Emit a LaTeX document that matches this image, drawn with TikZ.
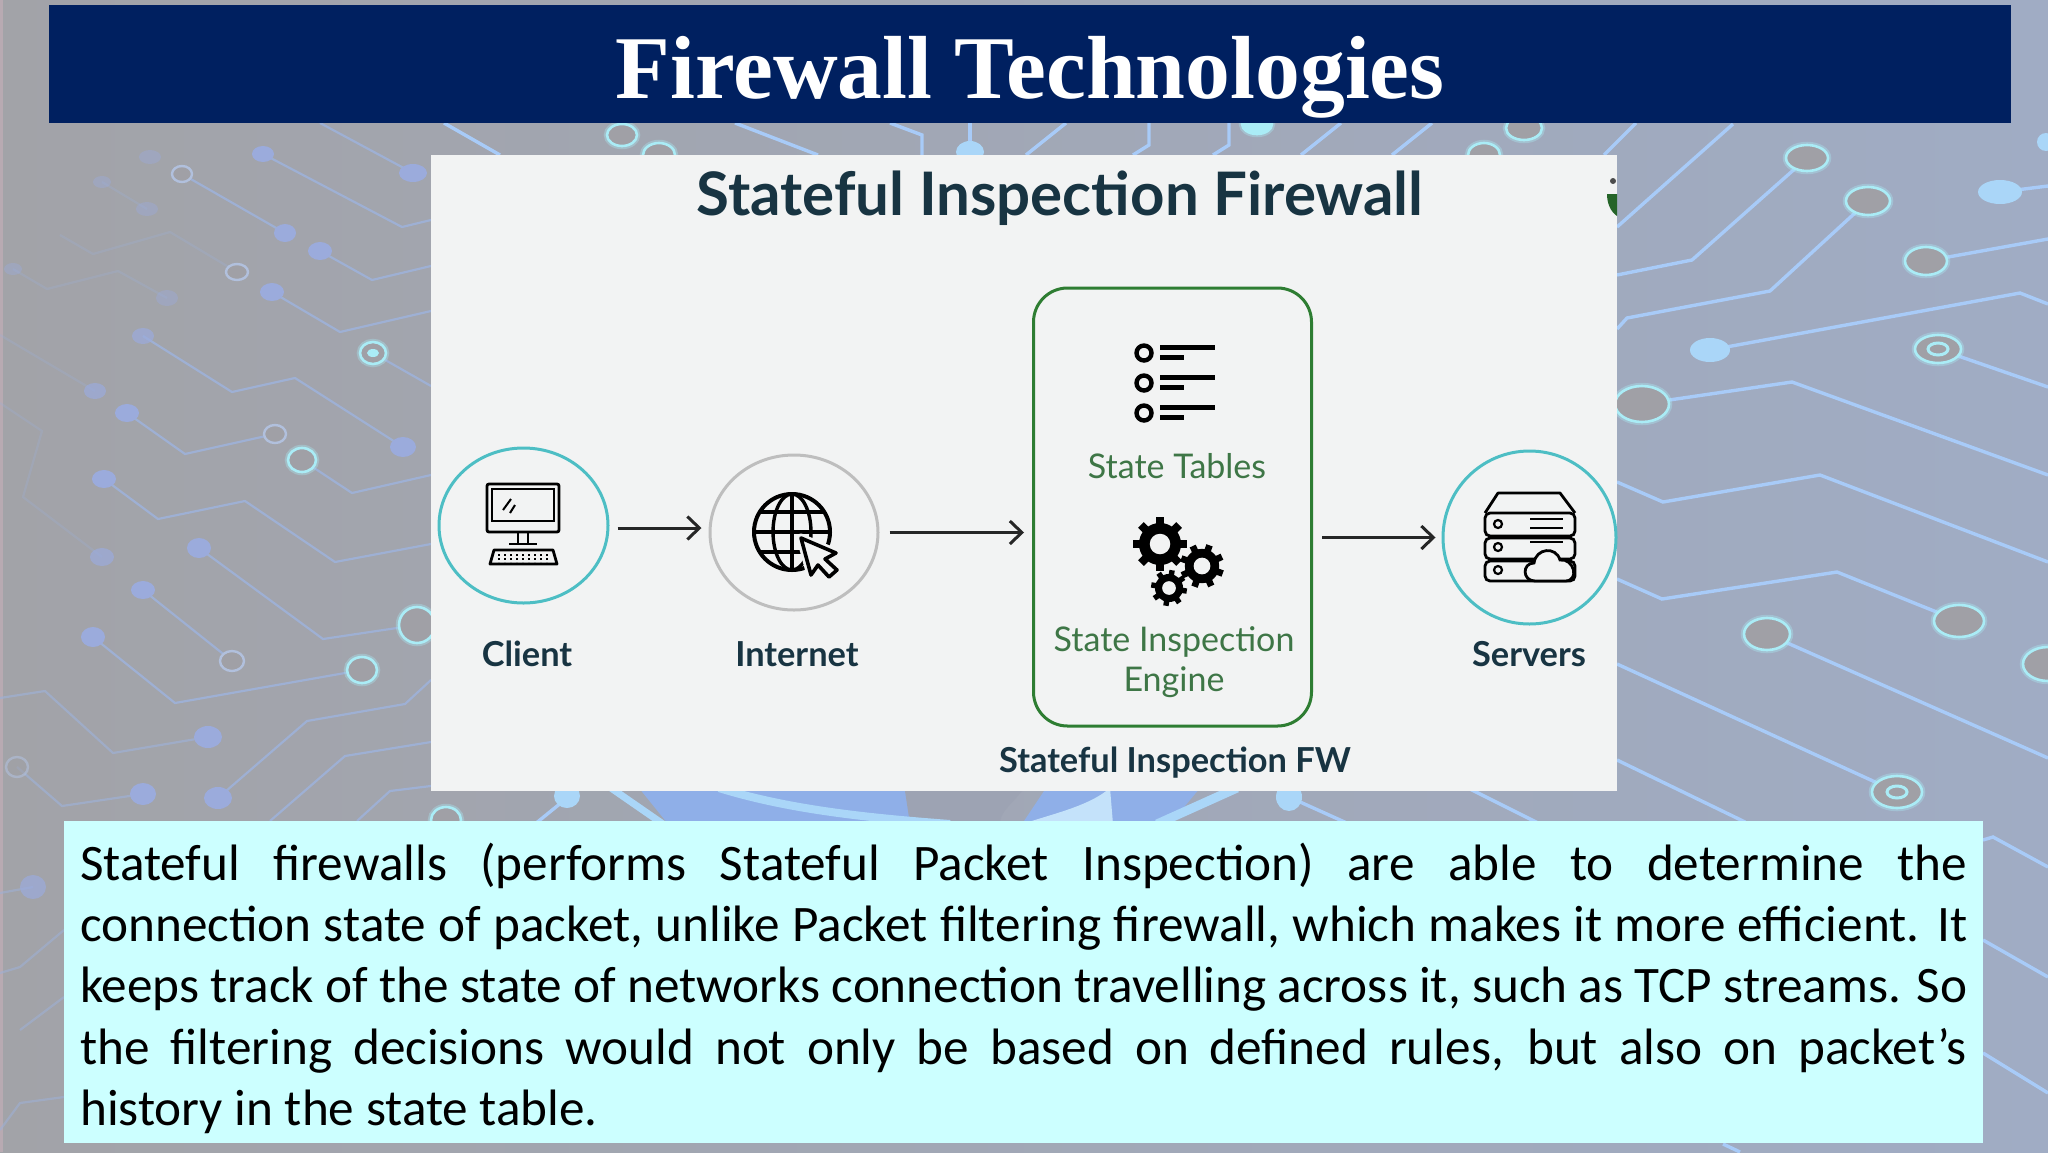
\documentclass[tikz,border=0pt]{standalone}
\usepackage{fontspec}
\setmainfont{Carlito}
\newfontfamily\titlefont{Liberation Serif}
\newfontfamily\diagfont{Lato}
\usetikzlibrary{arrows.meta, shapes.geometric, calc}
\definecolor{bgleft}{RGB}{162, 163, 168}
\definecolor{bgmid}{RGB}{160, 163, 176}
\definecolor{bgright}{RGB}{160, 172, 196}
\definecolor{edgepink}{RGB}{184, 170, 178}
\definecolor{navy}{RGB}{0, 32, 96}
\definecolor{paleaqua}{RGB}{204, 255, 255}
\definecolor{panelgray}{RGB}{242, 243, 243}
\definecolor{tracedimc}{RGB}{158, 176, 212}
\definecolor{tracec}{RGB}{168, 203, 248}
\definecolor{dotdimc}{RGB}{155, 171, 220}
\definecolor{dotlightc}{RGB}{170, 214, 248}
\definecolor{glowc}{RGB}{170, 236, 246}
\definecolor{padgray}{RGB}{160, 160, 166}
\definecolor{swirlc}{RGB}{143, 175, 232}
\definecolor{tealring}{RGB}{77, 190, 196}
\definecolor{grayring}{RGB}{190, 190, 190}
\definecolor{fwgreen}{RGB}{46, 125, 50}
\definecolor{fwtext}{RGB}{62, 118, 70}
\definecolor{inktext}{RGB}{24, 52, 66}
\tikzset{
  tracedim/.style={tracedimc, line width=2.2pt},
  trace/.style={tracec, line width=3.4pt},
  dotdim/.style={fill=dotdimc},
  dotlight/.style={fill=dotlightc},
  ringdim/.style={draw=tracedimc!80!white, line width=2.4pt, fill=padgray},
  ringpad/.style={draw=glowc, line width=2.6pt, fill=padgray,
    preaction={draw=glowc, opacity=.35, line width=6.5pt}},
  hubring/.style={shape=ellipse, draw, line width=3pt, inner sep=0pt},
  toplabel/.style={font=\diagfont\bfseries\fontsize{34.4}{40}\selectfont, text=inktext},
  greenlabel/.style={font=\diagfont\fontsize{34}{40.5}\selectfont, text=fwtext, align=center},
  flowarrow/.style={-{Straight Barb[length=12pt, width=23pt]}, line width=3pt, black!85},
  iconline/.style={draw=black, line width=2.8pt},
}
\newcommand{\gearicon}[4]{%
  \foreach \tooth in {0,45,...,315}
    \draw[black, line width=#3*0.3pt] ($(#1,#2)+(\tooth+#4:#3*0.7)$) -- ($(#1,#2)+(\tooth+#4:#3)$);
  \fill[black] (#1,#2) circle (#3*0.78);
  \fill[panelgray] (#1,#2) circle (#3*0.38);
}

\begin{document}
\begin{tikzpicture}[x=1pt, y=-1pt]
  \useasboundingbox (0,0) rectangle (2048,1152);
  % --- Background board ---
  \shade[left color=bgleft, middle color=bgmid, right color=bgright] (0,0) rectangle (2048,1152);
  \fill[edgepink] (0,0) rectangle (2.5,1152);

  % Traces, left side
  \draw[tracedim] (320,123) -- (413,173);
  \draw[tracedim] (263,154) -- (402,227) -- (431,220);
  \draw[tracedim] (182,174) -- (285,233);
  \draw[tracedim] (320,251) -- (372,280) -- (431,266);
  \draw[tracedim] (272,292) -- (340,332) -- (431,311);
  \draw[tracedim] (373,353) -- (431,386);
  \draw[tracedim] (143,336) -- (232,392) -- (295,378) -- (403,447);
  \draw[tracedim] (127,413) -- (185,454) -- (275,434);
  \draw[tracedim] (302,460) -- (352,493) -- (431,475);
  \draw[tracedim] (104,479) -- (158,519) -- (245,501) -- (335,562) -- (431,544);
  \draw[tracedim] (199,548) -- (323,639) -- (417,625);
  \draw[tracedim] (143,590) -- (232,661);
  \draw[tracedim] (93,637) -- (175,703) -- (362,670);
  \draw[tracedim, opacity=.7] (0,698) -- (45,691) -- (113,753) -- (208,737);
  \draw[tracedim, opacity=.7] (17,767) -- (62,806) -- (143,794);
  \draw[tracedim] (218,798) -- (307,721) -- (405,704) -- (431,680);
  \draw[tracedim] (270,821) -- (345,756) -- (431,742);
  \draw[tracedim] (357,821) -- (390,791) -- (431,786);
  \draw[tracedim, opacity=.3] (102,182) -- (147,209);
  \draw[tracedim, opacity=.3] (13,269) -- (47,289) -- (118,271) -- (167,298);
  \draw[tracedim, opacity=.3] (60,235) -- (93,254) -- (170,232) -- (237,272);
  \draw[tracedim, opacity=.3] (0,335) -- (95,391);
  \draw[tracedim, opacity=.3] (0,403) -- (42,431) -- (23,497) -- (102,557);
  \draw[tracedim, opacity=.6] (0,893) -- (33,887);
  \draw[tracedim, opacity=.6] (0,973) -- (20,967) -- (64,930);
  \draw[tracedim, opacity=.6] (20,1030) -- (64,997);
  \draw[tracedim, opacity=.6] (0,1130) -- (20,1103) -- (64,1097);
  % Pads, left side
  \foreach \px/\py/\rx/\ry in {413/173/14/9, 263/154/11/8, 285/233/11/9, 320/251/12/9, 272/292/12/9,
      403/447/13/10, 127/413/12/9, 104/479/12/9, 199/548/12/10,
      143/590/12/9, 93/637/12/10, 208/737/14/11, 143/794/13/11, 218/798/14/11}
    \fill[dotdim] (\px,\py) ellipse (\rx pt and \ry pt);
  \foreach \px/\py/\rx/\ry in {143/336/11/8, 95/391/11/8, 102/557/12/9, 33/887/13/12}
    \fill[dotdim, opacity=.7] (\px,\py) ellipse (\rx pt and \ry pt);
  \foreach \px/\py/\rx/\ry in {150/157/11/7, 102/182/9/6, 147/209/11/7, 167/298/11/8, 13/269/9/6}
    \fill[dotdim, opacity=.4] (\px,\py) ellipse (\rx pt and \ry pt);
  \foreach \px/\py/\rx/\ry in {182/174/10/8, 237/272/11/8, 275/434/11/9, 232/661/12/10}
    \filldraw[ringdim] (\px,\py) ellipse (\rx pt and \ry pt);
  \filldraw[ringdim, opacity=.6] (17,767) ellipse (11pt and 10pt);
  \foreach \px/\py/\rx/\ry in {302/460/14/12, 417/625/18/18, 362/670/15/13, 373/353/13/11}
    \filldraw[ringpad] (\px,\py) ellipse (\rx pt and \ry pt);
  \fill[glowc] (373,353) ellipse (6pt and 4pt);

  % Traces, strip above the panel
  \draw[trace] (444,123) -- (500,155);
  \draw[trace] (735,123) -- (818,155);
  \draw[trace] (890,123) -- (922,135) -- (922,155);
  \draw[trace] (970,123) -- (970,155);
  \draw[trace] (1066,123) -- (1026,155);
  \draw[trace] (1149,123) -- (1149,145) -- (1133,155);
  \draw[trace] (1229,123) -- (1229,145) -- (1213,155);
  \draw[trace] (1341,123) -- (1301,155);
  \draw[trace] (1432,123) -- (1392,155);
  \draw[trace] (1636,123) -- (1604,155);
  \filldraw[ringpad] (622,135) ellipse (15pt and 11pt);
  \filldraw[ringpad] (659,155) ellipse (16pt and 12pt);
  \filldraw[ringpad, fill=glowc] (1257,124) ellipse (15pt and 10pt);
  \filldraw[ringpad] (1524,128) ellipse (18pt and 12pt);
  \filldraw[ringpad] (1484,155) ellipse (16pt and 12pt);
  \fill[dotlight] (970,152) ellipse (14pt and 11pt);

  % Traces, strip below the panel
  \fill[swirlc] (639,788) -- (914,788) -- (910,824) -- (668,824) -- cycle;
  \fill[padgray!80!swirlc] (905,791) -- (1022,791) .. controls (1010,806) and (1000,812) .. (1000,824) -- (910,824) -- cycle;
  \fill[swirlc] (1046,788) -- (1200,788) -- (1170,824) -- (1022,824) -- cycle;
  \fill[dotlightc!70!white] (1110,788) -- (1113,824) -- (1022,824) .. controls (1060,812) and (1090,805) .. (1110,788);
  \draw[dotlightc, line width=7pt] (611,788) -- (663,824);
  \draw[dotlightc, line width=8pt] (719,788) .. controls (790,810) and (870,818) .. (950,824);
  \draw[dotlightc, line width=9pt] (1237,788) -- (1157,824);
  \draw[trace] (1289,797) -- (1349,824);
  \draw[trace] (1468,788) -- (1540,824);
  \draw[trace] (567,798) -- (535,824);
  \filldraw[ringpad] (446,820) ellipse (15pt and 13pt);
  \fill[dotlight] (567,796) ellipse (13pt and 12pt);
  \fill[dotlight] (1289,797) ellipse (13pt and 14pt);

  % Traces, right side
  \draw[trace] (1617,227) -- (1733,124);
  \draw[trace] (1617,275) -- (1692,260) -- (1807,158);
  \draw[trace] (1617,329) -- (1627,318) -- (1770,291) -- (1868,201);
  \draw[trace] (1926,261) -- (2048,239);
  \draw[trace] (2000,192) -- (2048,186);
  \draw[trace] (1710,350) -- (2020,293) -- (2048,304);
  \draw[trace] (1938,349) -- (2048,387);
  \draw[trace] (1642,404) -- (1792,382) -- (2048,475);
  \draw[trace] (1617,482) -- (1663,502) -- (1820,475) -- (2048,562);
  \draw[trace] (1617,579) -- (1662,599) -- (1837,572) -- (1959,621);
  \draw[trace] (1767,634) -- (2048,758);
  \draw[trace] (1617,664) -- (1897,792);
  \draw[trace] (1617,760) -- (1745,822);
  \draw[trace] (1983,840) -- (1993,837) -- (2048,867);
  \draw[trace] (1983,940) -- (2048,977);
  \draw[trace] (1983,1053) -- (2048,1093);
  \draw[trace] (1723,1144) -- (1740,1152);
  % Pads, right side
  \foreach \px/\py/\rx/\ry in {1807/158/21/13, 1868/201/22/14, 1926/261/21/14, 1642/404/27/18,
      1959/621/25/16, 1767/634/23/16, 2048/664/25/17, 1938/349/23/14, 1897/792/25/16}
    \filldraw[ringpad] (\px,\py) ellipse (\rx pt and \ry pt);
  \foreach \px/\py in {1938/349, 1897/792}
    \draw[glowc, line width=3pt] (\px,\py) ellipse (10pt and 6pt);
  \fill[dotlight] (1710,350) ellipse (20pt and 12pt);
  \fill[dotlight] (2000,192) ellipse (22pt and 12pt);
  \fill[dotlight] (2046,142) ellipse (9pt and 9pt);

  % --- Title band ---
  \node[fill=navy, minimum width=1962pt, minimum height=118pt, inner sep=0pt] (banner) at (1030,64) {};
  \node[anchor=base, font=\titlefont\bfseries\fontsize{89.6}{98}\selectfont, text=white] (title) at (1030,98) {Firewall Technologies};

  % --- Picture panel ---
  \fill[panelgray] (431,155) rectangle (1617,791);
  \node[font=\diagfont\bfseries\fontsize{60}{66}\selectfont, text=inktext] (diagtitle) at (1060,198) {Stateful Inspection Firewall};
  % Logo fragment cut by the panel edge
  \begin{scope}
    \clip (1600,170) rectangle (1617,225);
    \fill[fwgreen!80!black] (1617,194) -- (1607,194) .. controls (1607,204) and (1611,212) .. (1617,216) -- cycle;
    \fill[black!70] (1613,181) circle (3);
  \end{scope}

  % Hubs
  \node[hubring, draw=tealring, minimum width=169pt, minimum height=155pt] (client) at (523.5,525.5) {};
  \node[hubring, draw=grayring, minimum width=168pt, minimum height=155pt] (internet) at (794,532.5) {};
  \node[hubring, draw=tealring, minimum width=173pt, minimum height=173pt] (servers) at (1529.5,537.5) {};
  \node[draw=fwgreen, line width=3pt, rounded corners=34pt, minimum width=278pt, minimum height=438pt, inner sep=0pt] (fwbox) at (1172.5,507) {};

  % Labels
  \node[toplabel] (lblclient) at (527,654) {Client};
  \node[toplabel] (lblinternet) at (797,654) {Internet};
  \node[toplabel] (lblservers) at (1529,654) {Servers};
  \node[toplabel] (lblfw) at (1175,763) {Stateful Inspection FW};
  \node[greenlabel] (lbltables) at (1177,466) {State Tables};
  \node[greenlabel] (lblengine) at (1174,662) {State Inspection\\Engine};

  % Arrows
  \draw[flowarrow] ([xshift=8pt, yshift=-2.5pt]client.east) -- ([xshift=-7pt, yshift=4.5pt]internet.west);
  \draw[flowarrow] ([xshift=10pt]internet.east) -- ([xshift=-8pt, yshift=-25.5pt]fwbox.west);
  \draw[flowarrow] ([xshift=9pt, yshift=-30.5pt]fwbox.east) -- ([xshift=-6pt]servers.west);

  % --- Icons ---
  % Computer
  \draw[iconline, rounded corners=2pt] (487,484) rectangle (559,532);
  \draw[black, line width=2pt] (492,489) rectangle (554,521);
  \draw[black, line width=2pt] (511,499) -- (503,510) (515,505) -- (510,513);
  \draw[black, line width=2pt] (518,532) -- (518,543) (528,532) -- (528,543);
  \draw[iconline] (509,544) -- (537,544);
  \draw[iconline, line join=round] (494,550) -- (553,550) -- (557,564) -- (490,564) -- cycle;
  \foreach \kx in {499,505,...,549}
    \draw[black, line width=2.4pt, dash pattern=on 2pt off 2pt] (\kx,554) -- (\kx,562);
  % Globe
  \draw[black, line width=4pt] (792,532) circle (38);
  \draw[black, line width=3.4pt] (792,532) ellipse (19 and 38);
  \draw[black, line width=3.4pt] (792,494) -- (792,570) (754,532) -- (830,532) (760,512) -- (824,512) (760,552) -- (824,552);
  \filldraw[fill=panelgray, draw=panelgray, line width=9pt, line join=round]
    (801,538) -- (836,553) -- (825,559) -- (837,570) -- (829,577) -- (818,565) -- (811,575) -- cycle;
  \draw[black, line width=3.6pt, line join=round, fill=panelgray]
    (801,538) -- (836,553) -- (825,559) -- (837,570) -- (829,577) -- (818,565) -- (811,575) -- cycle;
  % State list
  \foreach \ly in {353,383,413} {
    \draw[black, line width=4.4pt] (1144,\ly) circle (7.5);
    \draw[black, line width=4.4pt] (1160,\ly-5.5) -- (1215,\ly-5.5);
    \draw[black, line width=4.4pt] (1160,\ly+4.5) -- (1184,\ly+4.5);
  }
  % Gears
  \gearicon{1160}{544}{27}{0}
  \gearicon{1202}{566}{22}{20}
  \gearicon{1169}{588}{18}{10}
  % Server rack with cloud
  \draw[iconline, line join=round] (1485,513) -- (1498,493) -- (1560,493) -- (1575,513);
  \draw[iconline, rounded corners=5pt] (1485,513) rectangle (1575,536);
  \draw[iconline, rounded corners=5pt] (1485,538) rectangle (1575,559);
  \draw[iconline, rounded corners=5pt] (1485,561) rectangle (1575,581);
  \foreach \dy in {524,547,570}
    \draw[black, line width=2.2pt] (1498,\dy) circle (4);
  \draw[black, line width=2.6pt] (1530,519) -- (1563,519) (1530,528) -- (1563,528) (1530,542) -- (1563,542);
  \filldraw[fill=panelgray, iconline] (1535,581) .. controls (1522,581) and (1522,563) .. (1534,563)
    .. controls (1536,548) and (1556,546) .. (1560,560) .. controls (1574,558) and (1580,581) .. (1565,581) -- cycle;

  % --- Text box ---
  \fill[paleaqua] (64,821) rectangle (1983,1143);
  \node[anchor=north west, inner xsep=16pt, inner ysep=0pt, text width=1887pt, align=justify,
    font=\fontsize{51.2}{61.4}\selectfont] (notes) at (64,842.5)
    {\tolerance=9999 Stateful firewalls (performs Stateful Packet Inspection) are able to determine the\linebreak
     connection state of packet, unlike Packet filtering firewall, which makes it more efficient. It\linebreak
     keeps track of the state of networks connection travelling across it, such as TCP streams. So\linebreak
     the filtering decisions would not only be based on defined rules, but also on packet’s\linebreak
     history in the state table.};
\end{tikzpicture}
\end{document}
